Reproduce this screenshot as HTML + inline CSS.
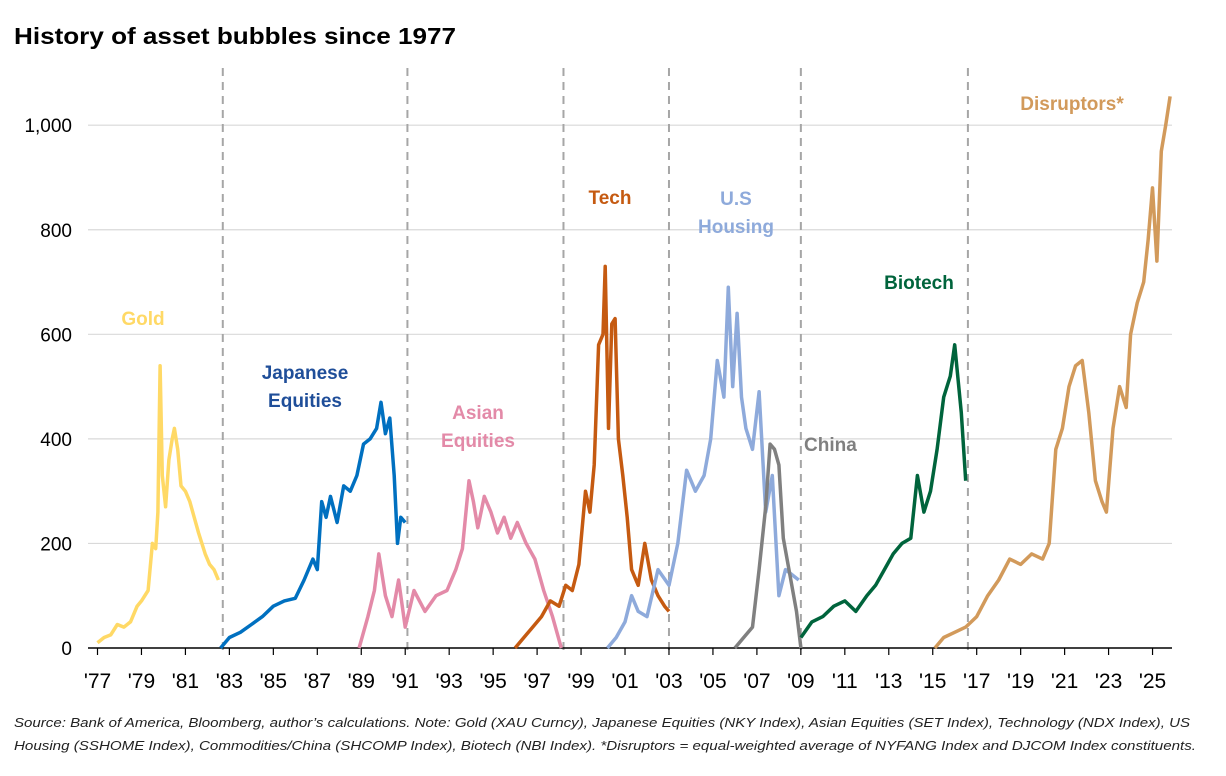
<!DOCTYPE html>
<html><head><meta charset="utf-8"><style>
body{margin:0;background:#fff;font-family:"Liberation Sans",sans-serif;}
svg{display:block}
</style></head><body>
<svg width="1226" height="776" xmlns="http://www.w3.org/2000/svg">
<text x="14" y="44" font-size="23" font-weight="bold" fill="#000" textLength="442" lengthAdjust="spacingAndGlyphs">History of asset bubbles since 1977</text>
<g id="grid"></g><g id="axes"></g><g id="series"></g><g id="labels"></g>
<text x="14" y="727" font-size="13.2" font-style="italic" fill="#222" textLength="1176" lengthAdjust="spacingAndGlyphs">Source: Bank of America, Bloomberg, author’s calculations. Note: Gold (XAU Curncy), Japanese Equities (NKY Index), Asian Equities (SET Index), Technology (NDX Index), US</text>
<text x="14" y="750" font-size="13.2" font-style="italic" fill="#222" textLength="1182" lengthAdjust="spacingAndGlyphs">Housing (SSHOME Index), Commodities/China (SHCOMP Index), Biotech (NBI Index). *Disruptors = equal-weighted average of NYFANG Index and DJCOM Index constituents.</text>
</svg>
<script>
const yTicks=[0,200,400,600,800,1000];
const yTickLabels=["0","200","400","600","800","1,000"];
const xTickYears=[1977,1979,1981,1983,1985,1987,1989,1991,1993,1995,1997,1999,2001,2003,2005,2007,2009,2011,2013,2015,2017,2019,2021,2023,2025];
const xTickLabels=["'77","'79","'81","'83","'85","'87","'89","'91","'93","'95","'97","'99","'01","'03","'05","'07","'09","'11","'13","'15","'17","'19","'21","'23","'25"];
const dividerYears=[1982.7,1991.1,1998.2,2003.0,2009.0,2016.6];
const goldT=[1977.0,1977.3,1977.6,1977.9,1978.2,1978.5,1978.8,1979.0,1979.3,1979.5,1979.65,1979.75,1979.85,1979.95,1980.1,1980.25,1980.4,1980.5,1980.65,1980.8,1981.0,1981.2,1981.4,1981.6,1981.9,1982.1,1982.3,1982.5];
const goldV=[10,20,25,45,40,50,80,90,110,200,190,260,540,330,270,360,400,420,380,310,300,280,250,220,180,160,150,130];
const japanT=[1982.6,1983.0,1983.5,1984.0,1984.5,1985.0,1985.5,1986.0,1986.4,1986.8,1987.0,1987.2,1987.4,1987.6,1987.9,1988.2,1988.5,1988.8,1989.1,1989.4,1989.7,1989.9,1990.1,1990.3,1990.5,1990.65,1990.8,1991.0];
const japanV=[0,20,30,45,60,80,90,95,130,170,150,280,250,290,240,310,300,330,390,400,420,470,410,440,330,200,250,240];
const asianT=[1988.9,1989.3,1989.6,1989.8,1990.1,1990.4,1990.7,1991.0,1991.4,1991.9,1992.4,1992.9,1993.3,1993.6,1993.9,1994.1,1994.3,1994.6,1994.9,1995.2,1995.5,1995.8,1996.1,1996.5,1996.9,1997.3,1997.7,1998.1];
const asianV=[0,60,110,180,100,60,130,40,110,70,100,110,150,190,320,280,230,290,260,220,250,210,240,200,170,110,60,0];
const techT=[1996.0,1996.4,1996.8,1997.2,1997.6,1998.0,1998.3,1998.6,1998.9,1999.2,1999.4,1999.6,1999.8,2000.0,2000.1,2000.25,2000.4,2000.55,2000.7,2000.9,2001.1,2001.3,2001.6,2001.9,2002.2,2002.5,2002.8,2003.0];
const techV=[0,20,40,60,90,80,120,110,160,300,260,350,580,600,730,420,620,630,400,330,250,150,120,200,130,100,80,70];
const housingT=[2000.2,2000.6,2001.0,2001.3,2001.6,2002.0,2002.5,2003.0,2003.4,2003.8,2004.2,2004.6,2004.9,2005.2,2005.5,2005.7,2005.9,2006.1,2006.3,2006.5,2006.8,2007.1,2007.4,2007.7,2008.0,2008.3,2008.6,2008.9];
const housingV=[0,20,50,100,70,60,150,120,200,340,300,330,400,550,480,690,500,640,480,420,380,490,260,330,100,150,140,130];
const chinaT=[2006.0,2006.4,2006.8,2007.1,2007.4,2007.6,2007.8,2008.0,2008.2,2008.5,2008.8,2009.0];
const chinaV=[0,20,40,150,270,390,380,350,210,140,70,0];
const biotechT=[2009.0,2009.5,2010.0,2010.5,2011.0,2011.5,2012.0,2012.4,2012.8,2013.2,2013.6,2014.0,2014.3,2014.6,2014.9,2015.2,2015.5,2015.8,2016.0,2016.3,2016.5];
const biotechV=[20,50,60,80,90,70,100,120,150,180,200,210,330,260,300,380,480,520,580,450,320];
const disruptT=[2015.1,2015.5,2016.0,2016.5,2017.0,2017.5,2018.0,2018.5,2019.0,2019.5,2020.0,2020.3,2020.6,2020.9,2021.2,2021.5,2021.8,2022.1,2022.4,2022.7,2022.9,2023.2,2023.5,2023.8,2024.0,2024.3,2024.6,2024.8,2025.0,2025.2,2025.4,2025.6,2025.8];
const disruptV=[0,20,30,40,60,100,130,170,160,180,170,200,380,420,500,540,550,450,320,280,260,420,500,460,600,660,700,780,880,740,950,1000,1055];

const NS="http://www.w3.org/2000/svg";
const X=t=>97.5+(t-1977)*21.98;
const Y=v=>648-v*0.5228;
function mk(tag,attrs,parent){const e=document.createElementNS(NS,tag);for(const k in attrs)e.setAttribute(k,attrs[k]);parent.appendChild(e);return e;}
const grid=document.getElementById('grid'),axes=document.getElementById('axes'),ser=document.getElementById('series'),lab=document.getElementById('labels');
yTicks.forEach((v,i)=>{
  if(v>0){const g=mk('line',{x1:88,x2:1172,y1:Y(v),y2:Y(v),stroke:'#d9d9d9','stroke-width':1.2},grid);
  
  }
  const t=mk('text',{x:72,y:Y(v)+7,'font-size':19,'text-anchor':'end',fill:'#000'},axes);t.textContent=yTickLabels[i];
  
  
});
const ax=mk('line',{x1:88,x2:1172,y1:648,y2:648,stroke:'#000','stroke-width':1.5},axes);


xTickYears.forEach((yr,i)=>{
  const tk=mk('line',{x1:X(yr),x2:X(yr),y1:648,y2:655,stroke:'#000','stroke-width':1.2},axes);
  
  
  const t=mk('text',{x:X(yr),y:688,'font-size':21,'text-anchor':'middle',fill:'#000'},axes);t.textContent=xTickLabels[i];
  
  
});
dividerYears.forEach(d=>{
  const l=mk('line',{x1:X(d),x2:X(d),y1:68,y2:655,stroke:'#a6a6a6','stroke-width':2,'stroke-dasharray':'8,6'},grid);
  
  
});
const seriesList=[[goldT,goldV,'#ffd966','gold'],[japanT,japanV,'#0070c0','japanese-equities'],[asianT,asianV,'#e38aa8','asian-equities'],[techT,techV,'#c55a11','tech'],[housingT,housingV,'#8eaadb','us-housing'],[chinaT,chinaV,'#808080','china'],[biotechT,biotechV,'#00643c','biotech'],[disruptT,disruptV,'#d29a5b','disruptors']];
seriesList.forEach(s=>{
  const d=s[0].map((t,i)=>(i?'L':'M')+X(t).toFixed(1)+','+Y(s[1][i]).toFixed(1)).join(' ');
  const p=mk('path',{d:d,fill:'none',stroke:s[2],'stroke-width':3.5,'stroke-linejoin':'round'},ser);
  
  
});
const labels=[["Gold",143,[325],'#ffd966','middle'],["Japanese|Equities",305,[379,407],'#1f4e99','middle'],["Asian|Equities",478,[419,447],'#e38aa8','middle'],["Tech",610,[204],'#c55a11','middle'],["U.S|Housing",736,[205,233],'#8eaadb','middle'],["China",804,[451],'#808080','start'],["Biotech",919,[289],'#00643c','middle'],["Disruptors*",1072,[110],'#d29a5b','middle']];
labels.forEach(l=>{
  l[0].split('|').forEach((line,j)=>{
    const t=mk('text',{x:l[1],y:l[2][j],'font-size':19,'font-weight':'bold','text-anchor':l[4],fill:l[3]},lab);t.textContent=line;
    
    
  });
});
</script>
</body></html>
